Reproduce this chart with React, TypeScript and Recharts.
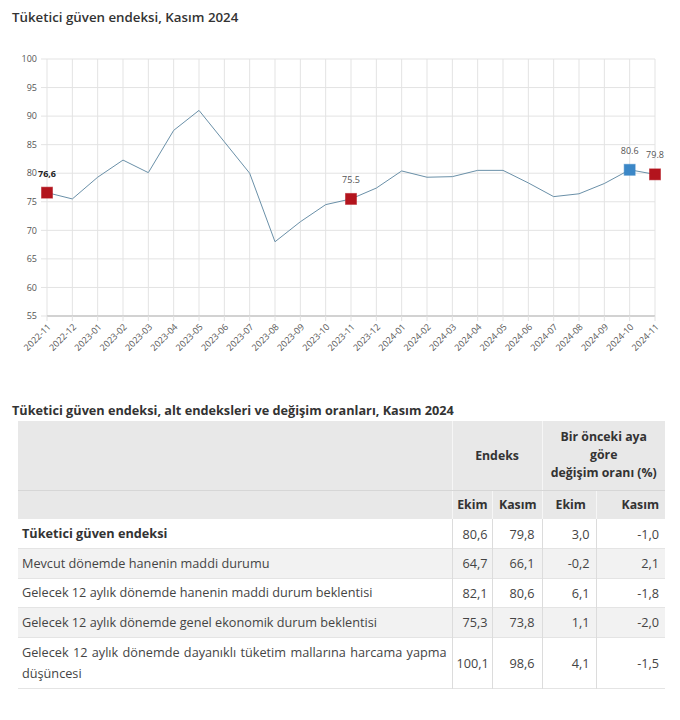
import React from "react";
import { LineChart, Line, XAxis, YAxis, CartesianGrid } from "recharts";

// chart data
const months = [
  "2022-11", "2022-12", "2023-01", "2023-02", "2023-03", "2023-04", "2023-05",
  "2023-06", "2023-07", "2023-08", "2023-09", "2023-10", "2023-11", "2023-12",
  "2024-01", "2024-02", "2024-03", "2024-04", "2024-05", "2024-06", "2024-07",
  "2024-08", "2024-09", "2024-10", "2024-11",
];
const confidence = [
  76.6, 75.5, 79.3, 82.3, 80.1, 87.5, 91.0, 85.5, 80.0, 68.0, 71.5, 74.5, 75.5,
  77.4, 80.4, 79.3, 79.4, 80.5, 80.5, 78.3, 75.9, 76.4, 78.2, 80.6, 79.8,
];
const yTicks = [55, 60, 65, 70, 75, 80, 85, 90, 95, 100];
const redMonths = ["2022-11", "2023-11", "2024-11"];
const blueMonths = ["2024-10"];
const pointLabels: Record<string, string> = {
  "2022-11": "76,6",
  "2023-11": "75.5",
  "2024-10": "80.6",
  "2024-11": "79.8",
};

// table data
const tableRowLabels = [
  "Tüketici güven endeksi",
  "Mevcut dönemde hanenin maddi durumu",
  "Gelecek 12 aylık dönemde hanenin maddi durum beklentisi",
  "Gelecek 12 aylık dönemde genel ekonomik durum beklentisi",
  "Gelecek 12 aylık dönemde dayanıklı tüketim mallarına harcama yapma düşüncesi",
];
const indexEkim = ["80,6", "64,7", "82,1", "75,3", "100,1"];
const indexKasim = ["79,8", "66,1", "80,6", "73,8", "98,6"];
const changeEkim = ["3,0", "-0,2", "6,1", "1,1", "4,1"];
const changeKasim = ["-1,0", "2,1", "-1,8", "-2,0", "-1,5"];

const data = months.map((m, i) => ({ month: m, value: confidence[i] }));

const FONT = "'Open Sans', 'Noto Sans', sans-serif";

const renderDot = (props: any) => {
  const { cx, cy, payload, index } = props;
  let fill = "";
  if (redMonths.includes(payload.month)) fill = "#b3141d";
  else if (blueMonths.includes(payload.month)) fill = "#3b87c7";
  if (!fill) return <g key={`d${index}`} />;
  return (
    <rect
      key={`d${index}`}
      x={cx - 5.5}
      y={cy - 5.5}
      width={11}
      height={11}
      fill={fill}
      stroke={fill}
      strokeOpacity={0.5}
    />
  );
};

const renderLabel = (props: any) => {
  const { x, y, index } = props;
  const text = pointLabels[months[index]];
  if (!text) return null;
  const first = index === 0;
  return (
    <text
      key={`l${index}`}
      x={x}
      y={y - 16}
      textAnchor="middle"
      fontSize={9}
      fontFamily={FONT}
      fontWeight={first ? 700 : 400}
      fill={first ? "#222" : "#555"}
    >
      {text}
    </text>
  );
};

const cellBase: React.CSSProperties = {
  padding: "0 6px",
  borderLeft: "1px solid #dcdcdc",
  textAlign: "right",
  verticalAlign: "middle",
};

export default function App() {
  return (
    <div
      style={{
        position: "absolute",
        left: 0,
        top: 0,
        width: 680,
        height: 720,
        background: "#fff",
        fontFamily: FONT,
      }}
    >
      <div
        style={{
          position: "absolute",
          left: 12,
          top: 8,
          fontSize: 13.3,
          fontWeight: 600,
          color: "#333",
        }}
      >
        Tüketici güven endeksi, Kasım 2024
      </div>
      <LineChart
        width={680}
        height={380}
        data={data}
        margin={{ top: 59, right: 25, left: 0, bottom: 14 }}
      >
        <CartesianGrid stroke="#e3e3e3" />
        <XAxis
          dataKey="month"
          interval={0}
          height={50}
          axisLine={{ stroke: "#d2d2d2", strokeWidth: 2 }}
          tickLine={{ stroke: "#e0e0e0" }}
          tickSize={5}
          tickMargin={2}
          tick={{ angle: -45, textAnchor: "end", fontSize: 9, fill: "#555", fontFamily: FONT }}
        />
        <YAxis
          width={47}
          domain={[55, 100]}
          ticks={yTicks}
          axisLine={false}
          tickLine={{ stroke: "#e3e3e3" }}
          tickSize={6}
          tickMargin={4}
          tick={{ fontSize: 9, fill: "#555", fontFamily: FONT }}
        />
        <Line
          type="linear"
          dataKey="value"
          stroke="#6a90a8"
          strokeWidth={1}
          dot={renderDot}
          activeDot={false}
          label={renderLabel}
          isAnimationActive={false}
        />
      </LineChart>

      <div
        style={{
          position: "absolute",
          left: 12,
          top: 401,
          fontSize: 12.7,
          fontWeight: 700,
          color: "#333",
        }}
      >
        Tüketici güven endeksi, alt endeksleri ve değişim oranları, Kasım 2024
      </div>
      <table
        style={{
          position: "absolute",
          left: 18,
          top: 421,
          width: 647,
          borderCollapse: "collapse",
          tableLayout: "fixed",
          fontSize: 12.7,
          color: "#444",
          fontFamily: FONT,
        }}
      >
        <colgroup>
          <col style={{ width: 434 }} />
          <col style={{ width: 40 }} />
          <col style={{ width: 50 }} />
          <col style={{ width: 54 }} />
          <col style={{ width: 69 }} />
        </colgroup>
        <thead>
          <tr style={{ height: 69, background: "#e8e8e8", fontWeight: 700, color: "#333", fontSize: 12.3 }}>
            <th style={{ borderBottom: "1px solid #d6d6d6" }} />
            <th
              colSpan={2}
              style={{ ...cellBase, textAlign: "center", borderLeft: "1px solid #f6f6f6", borderBottom: "1px solid #d6d6d6" }}
            >
              Endeks
            </th>
            <th
              colSpan={2}
              style={{
                ...cellBase,
                textAlign: "center",
                lineHeight: "18px",
                borderLeft: "1px solid #f6f6f6",
                borderBottom: "1px solid #d6d6d6",
                padding: "0 2px",
              }}
            >
              Bir önceki aya
              <br />
              göre
              <br />
              değişim oranı (%)
            </th>
          </tr>
          <tr style={{ height: 29, background: "#e8e8e8", fontWeight: 700, color: "#333", fontSize: 12.3 }}>
            <th />
            <th style={{ ...cellBase, borderLeft: "1px solid #f6f6f6", padding: "0 4px" }}>Ekim</th>
            <th style={{ ...cellBase, borderLeft: "1px solid #f6f6f6", padding: "0 5px" }}>Kasım</th>
            <th style={{ ...cellBase, borderLeft: "1px solid #f6f6f6", padding: "0 13px" }}>Ekim</th>
            <th style={{ ...cellBase, borderLeft: "1px solid #f6f6f6" }}>Kasım</th>
          </tr>
        </thead>
        <tbody>
          {tableRowLabels.map((label, i) => (
            <tr
              key={label}
              style={{
                height: i === 4 ? 51 : 29.5,
                background: i % 2 === 1 ? "#f2f2f2" : "#fff",
                borderBottom: "1px solid #e4e4e4",
              }}
            >
              <td
                style={{
                  padding: "2px 5px 2px 4px",
                  fontWeight: i === 0 ? 700 : 400,
                  color: i === 0 ? "#333" : "#444",
                  textAlign: "justify",
                  lineHeight: "21px",
                }}
              >
                {label}
              </td>
              <td style={{ ...cellBase, padding: "0 4px" }}>{indexEkim[i]}</td>
              <td style={{ ...cellBase, padding: "0 7px" }}>{indexKasim[i]}</td>
              <td style={{ ...cellBase, padding: "0 6px" }}>{changeEkim[i]}</td>
              <td style={{ ...cellBase, padding: "0 6px" }}>{changeKasim[i]}</td>
            </tr>
          ))}
        </tbody>
      </table>
    </div>
  );
}
